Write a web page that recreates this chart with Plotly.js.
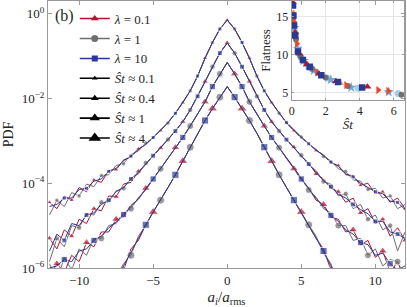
<!DOCTYPE html>
<html><head><meta charset="utf-8">
<script src="https://cdn.plot.ly/plotly-3.0.1.min.js"></script>
<style>html,body{margin:0;padding:0;background:#fff;} #chart{width:407px;height:307px;}</style>
</head><body><div id="chart"></div>
<script>
// ---------- main panel data: x = a_i / a_rms ----------
const xGrid = [-12,-11.5,-11,-10.5,-10,-9.5,-9,-8.5,-8,-7.5,-7,-6.5,-6,-5.5,-5,-4.5,-4,-3.5,-3,-2.5,-2,-1.5,-1,-0.5,0,0.5,1,1.5,2,2.5,3,3.5,4,4.5,5,5.5,6,6.5,7,7.5,8,8.5,9,9.5,10,10.5,11,11.5,12];

// log10(PDF) values (curves shifted vertically per St group)
// St ~ 0.1
const logPdf_St01_lam01 = [-4.45,-4.6,-4.3,-4.4,-4.1,-4.2,-3.92,-3.98,-3.7,-3.68,-3.45,-3.38,-3.19,-3.09,-2.91,-2.76,-2.56,-2.35,-2.1,-1.82,-1.47,-1.05,-0.68,-0.36,-0.15,-0.36,-0.68,-1.05,-1.47,-1.82,-2.1,-2.35,-2.58,-2.76,-2.93,-3.06,-3.23,-3.33,-3.52,-3.58,-3.8,-3.82,-4.05,-4.0,-4.25,-4.2,-4.45,-4.35,-4.6];
const logPdf_St01_lam1 = [-4.75,-4.4,-4.55,-4.22,-4.3,-4.02,-4.08,-3.82,-3.8,-3.58,-3.54,-3.32,-3.24,-3.05,-2.93,-2.74,-2.58,-2.35,-2.1,-1.82,-1.47,-1.05,-0.68,-0.36,-0.15,-0.36,-0.68,-1.05,-1.47,-1.82,-2.1,-2.35,-2.56,-2.74,-2.91,-3.08,-3.2,-3.37,-3.47,-3.66,-3.72,-3.92,-3.95,-4.15,-4.12,-4.35,-4.3,-4.6,-4.5];
const logPdf_St01_lam10 = [-4.55,-4.5,-4.35,-4.35,-4.15,-4.12,-3.95,-3.9,-3.72,-3.65,-3.47,-3.36,-3.2,-3.08,-2.92,-2.75,-2.57,-2.35,-2.1,-1.82,-1.47,-1.05,-0.68,-0.36,-0.15,-0.36,-0.68,-1.05,-1.47,-1.82,-2.1,-2.35,-2.57,-2.75,-2.92,-3.07,-3.22,-3.34,-3.5,-3.6,-3.78,-3.85,-4.0,-4.1,-4.2,-4.25,-4.42,-4.45,-4.62];
// St ~ 0.4
const logPdf_St04_lam01 = [-5.3,-5.55,-5.1,-5.25,-4.85,-4.95,-4.6,-4.65,-4.3,-4.32,-4.02,-3.98,-3.72,-3.56,-3.34,-3.17,-2.97,-2.77,-2.55,-2.27,-1.95,-1.6,-1.25,-0.93,-0.69,-0.93,-1.25,-1.6,-1.95,-2.27,-2.55,-2.77,-2.98,-3.15,-3.37,-3.52,-3.78,-3.9,-4.12,-4.2,-4.45,-4.35,-4.7,-4.6,-4.95,-4.85,-5.25,-5.05,-5.35];
const logPdf_St04_lam1 = [-5.85,-5.3,-5.5,-5.0,-5.05,-4.72,-4.75,-4.45,-4.45,-4.18,-4.12,-3.88,-3.78,-3.52,-3.36,-3.15,-2.97,-2.77,-2.55,-2.27,-1.95,-1.6,-1.25,-0.93,-0.69,-0.93,-1.25,-1.6,-1.95,-2.27,-2.55,-2.77,-2.96,-3.17,-3.34,-3.57,-3.7,-3.96,-4.02,-4.3,-4.25,-4.6,-4.5,-4.85,-4.75,-5.1,-5.0,-5.6,-5.15];
const logPdf_St04_lam10 = [-5.6,-5.2,-5.35,-4.95,-5.0,-4.75,-4.7,-4.5,-4.4,-4.2,-4.1,-3.9,-3.75,-3.54,-3.35,-3.16,-2.97,-2.77,-2.55,-2.27,-1.95,-1.6,-1.25,-0.93,-0.69,-0.93,-1.25,-1.6,-1.95,-2.27,-2.55,-2.77,-2.97,-3.16,-3.35,-3.55,-3.74,-3.94,-4.08,-4.26,-4.35,-4.5,-4.62,-4.72,-4.9,-4.9,-5.15,-5.2,-5.3];
// St ~ 1
const logPdf_St1_lam01 = [-6.2,-5.9,-6.1,-5.7,-5.85,-5.4,-5.5,-5.15,-5.15,-4.85,-4.8,-4.52,-4.38,-4.12,-3.9,-3.66,-3.42,-3.16,-2.92,-2.65,-2.38,-2.08,-1.72,-1.42,-1.15,-1.42,-1.72,-2.08,-2.38,-2.65,-2.92,-3.16,-3.42,-3.66,-3.92,-4.12,-4.4,-4.5,-4.8,-4.85,-5.15,-5.1,-5.45,-5.35,-5.75,-5.6,-6.1,-5.85,-6.3];
const logPdf_St1_lam1 = [-5.9,-6.3,-5.75,-6.05,-5.55,-5.7,-5.3,-5.3,-5.0,-4.95,-4.7,-4.6,-4.34,-4.16,-3.9,-3.66,-3.42,-3.16,-2.92,-2.65,-2.38,-2.08,-1.72,-1.42,-1.15,-1.42,-1.72,-2.08,-2.38,-2.65,-2.92,-3.16,-3.42,-3.66,-3.88,-4.16,-4.33,-4.6,-4.7,-5.0,-5.0,-5.35,-5.3,-5.7,-5.55,-5.95,-5.8,-5.85,-6.2];
const logPdf_St1_lam10 = [-6.0,-5.95,-5.8,-5.85,-5.6,-5.55,-5.35,-5.25,-5.05,-4.92,-4.74,-4.56,-4.36,-4.14,-3.9,-3.66,-3.42,-3.16,-2.92,-2.65,-2.38,-2.08,-1.72,-1.42,-1.15,-1.42,-1.72,-2.08,-2.38,-2.65,-2.92,-3.16,-3.42,-3.66,-3.9,-4.14,-4.36,-4.55,-4.76,-4.9,-5.1,-5.2,-5.4,-5.45,-5.7,-5.65,-5.9,-6.05,-5.95];
// St ~ 4
const logPdf_St4_lam01 = [null,null,null,null,null,null,null,null,-6.5,-6.1,-6.05,-5.55,-5.35,-4.98,-4.68,-4.4,-4.1,-3.8,-3.48,-3.15,-2.82,-2.52,-2.24,-1.97,-1.72,-1.97,-2.24,-2.52,-2.82,-3.15,-3.48,-3.8,-4.1,-4.4,-4.68,-5.0,-5.3,-5.55,-6.05,-6.2,null,null,null,null,null,null,null,null,null];
const logPdf_St4_lam1 = [null,null,null,null,null,null,null,null,-6.4,-6.2,-5.9,-5.7,-5.25,-5.0,-4.68,-4.4,-4.1,-3.8,-3.48,-3.15,-2.82,-2.52,-2.24,-1.97,-1.72,-1.97,-2.24,-2.52,-2.82,-3.15,-3.48,-3.8,-4.1,-4.4,-4.68,-4.98,-5.25,-5.65,-5.9,-6.4,null,null,null,null,null,null,null,null,null];
const logPdf_St4_lam10 = [null,null,null,null,null,null,null,null,-6.7,-6.3,-5.95,-5.62,-5.28,-4.98,-4.68,-4.4,-4.1,-3.8,-3.48,-3.15,-2.82,-2.52,-2.24,-1.97,-1.72,-1.97,-2.24,-2.52,-2.82,-3.15,-3.48,-3.8,-4.1,-4.4,-4.68,-4.98,-5.28,-5.6,-5.95,-6.3,null,null,null,null,null,null,null,null,null];

// ---------- inset data: flatness vs St ----------
const insetSt_sq    = [0.08,0.1,0.14,0.21,0.37,0.66,1.06,1.74,2.72,4.14];
const insetFlat_sq  = [16.4,15.1,13.8,12.5,10.4,9.3,8.4,7.3,6.4,5.7];
const insetSt_tri   = [0.07,0.2,0.45,0.9,1.6,2.6,4.45];
const insetFlat_tri = [16.8,12.9,10.1,8.7,7.5,6.5,5.8];
const insetSt_circ  = [0.1,0.25,0.5,1.2,2.0,3.3,6.45];
const insetFlat_circ= [14.8,12.0,9.8,8.1,7.0,5.9,4.75];
const insetSt_rtri  = [0.12,0.3,0.8,1.5,3.2,5.08,5.67];
const insetFlat_rtri= [14.3,11.4,8.9,7.7,6.0,5.35,5.25];
const insetSt_star  = [0.15,0.35,0.7,1.3,2.3,3.5,5.7];
const insetFlat_star= [13.5,10.8,9.2,7.9,6.7,5.7,5.1];
const insetSt_lc    = [0.18,0.55,1.0,2.1,3.9,6.25];
const insetFlat_lc  = [13.0,9.6,8.3,6.9,5.6,4.9];
const insetSt_otri  = [0.09,0.28,0.6,1.1,1.9,2.9];
const insetFlat_otri= [15.6,11.7,9.5,8.2,7.1,6.2];

// ---------- ticks & labels ----------
const xTickVals = [-10,-5,0,5,10];
const yTickVals = [1,1e-2,1e-4,1e-6];
const yTickText = ['10<sup>0</sup>','10<sup>\u22122</sup>','10<sup>\u22124</sup>','10<sup>\u22126</sup>'];
const lambdaLabels = ['<i>\u03bb</i> = 0.1','<i>\u03bb</i> = 1','<i>\u03bb</i> = 10'];
const stLabels = ['<i>\u015ct</i> \u2248 0.1','<i>\u015ct</i> \u2248 0.4','<i>\u015ct</i> \u2248 1','<i>\u015ct</i> \u2248 4'];

// ---------- styling ----------
const FONT = '"Liberation Serif", "DejaVu Serif", serif';
const RED = '#b5132f', GRAY = '#6f6f6f', BLUE = '#2b3992';
const groups = [
  {series:[logPdf_St4_lam01,logPdf_St4_lam1,logPdf_St4_lam10], size:8, period:4, offs:[2,3,1]},
  {series:[logPdf_St1_lam01,logPdf_St1_lam1,logPdf_St1_lam10], size:7, period:4, offs:[1,3,2]},
  {series:[logPdf_St04_lam01,logPdf_St04_lam1,logPdf_St04_lam10], size:5.5, period:3, offs:[0,1,2]},
  {series:[logPdf_St01_lam01,logPdf_St01_lam1,logPdf_St01_lam10], size:4.5, period:3, offs:[0,1,2]}
];
const colors = [RED, GRAY, BLUE];
const symbols = ['triangle-up','circle','square'];
const symScale = [1.15, 1.0, 0.9];

const traces = [];
groups.forEach(g => {
  g.series.forEach((logs, k) => {
    traces.push({
      type:'scatter', mode:'lines+markers', xaxis:'x', yaxis:'y',
      x: xGrid, y: logs.map(v => v === null ? null : Math.pow(10, v)),
      line:{color:colors[k], width:1}, connectgaps:false,
      marker:{color:colors[k], symbol:symbols[k],
        size: xGrid.map((_, i) => (i % g.period === g.offs[k]) ? g.size*symScale[k] : 0)},
      showlegend:false, hoverinfo:'skip'
    });
  });
});

// legend entries
lambdaLabels.forEach((lab, k) => {
  traces.push({type:'scatter', mode:'lines+markers', x:[null], y:[null], xaxis:'x', yaxis:'y',
    name:lab, line:{color:colors[k], width:1.5}, marker:{color:colors[k], symbol:symbols[k], size:[7,7,6][k]}});
});
const stSizes = [5,7,9,11];
stLabels.forEach((lab, k) => {
  traces.push({type:'scatter', mode:'lines+markers', x:[null], y:[null], xaxis:'x', yaxis:'y',
    name:lab, line:{color:'#000', width:1.6}, marker:{color:'#000', symbol:'triangle-up', size:stSizes[k]}});
});

// inset traces
const insetSets = [
  [insetSt_otri, insetFlat_otri, 'triangle-up', '#f08a5d', 5],
  [insetSt_lc, insetFlat_lc, 'circle', '#a9cfe6', 7],
  [insetSt_star, insetFlat_star, 'star', '#6fa8d6', 8],
  [insetSt_circ, insetFlat_circ, 'circle', '#707070', 6],
  [insetSt_rtri, insetFlat_rtri, 'triangle-right', '#e2492f', 7],
  [insetSt_tri, insetFlat_tri, 'triangle-up', '#b5132f', 7],
  [insetSt_sq, insetFlat_sq, 'square', '#2b3992', 6.5]
];
insetSets.forEach(s => {
  traces.push({type:'scatter', mode:'markers', xaxis:'x2', yaxis:'y2', x:s[0], y:s[1],
    marker:{symbol:s[2], color:s[3], size:s[4]}, showlegend:false, hoverinfo:'skip'});
});

const axisCommon = {ticks:'inside', ticklen:4, tickcolor:'#9a9a9a', showline:true, linecolor:'#9a9a9a',
  linewidth:1, mirror:'ticks', zeroline:false};

const layout = {
  width:407, height:307,
  margin:{l:48, r:2, t:1, b:39},
  paper_bgcolor:'#ffffff', plot_bgcolor:'rgba(0,0,0,0)',
  font:{family:FONT, color:'#262626', size:13},
  showlegend:true,
  legend:{x:0.075, y:0.99, xanchor:'left', yanchor:'top', bgcolor:'rgba(0,0,0,0)',
    font:{family:FONT, size:13, color:'#262626'}, tracegroupgap:0},
  xaxis:Object.assign({}, axisCommon, {domain:[0,1], anchor:'y', range:[-12.1,12], tickvals:xTickVals,
    showgrid:false, tickfont:{family:FONT, size:13},
    title:{text:'<i>a<sub>i</sub></i>/<i>a</i><sub>rms</sub>', font:{family:FONT, size:15}, standoff:4}}),
  yaxis:Object.assign({}, axisCommon, {domain:[0,1], anchor:'x', type:'log', range:[-6,0.3],
    tickvals:yTickVals, ticktext:yTickText, showgrid:false, tickfont:{family:FONT, size:13},
    title:{text:'PDF', font:{family:FONT, size:14}, standoff:4}}),
  xaxis2:Object.assign({}, axisCommon, {domain:[0.6826,0.9972], anchor:'y2', range:[0,6.6],
    tickvals:[0,2,4,6], showgrid:true, gridcolor:'#e6e6e6', tickfont:{family:FONT, size:12}, ticklen:2,
    title:{text:'<i>\u015ct</i>', font:{family:FONT, size:13}, standoff:2}}),
  yaxis2:Object.assign({}, axisCommon, {domain:[0.629,1], anchor:'x2', range:[4.05,17],
    tickvals:[5,10,15], showgrid:true, gridcolor:'#e6e6e6', tickfont:{family:FONT, size:12}, ticklen:2,
    title:{text:'Flatness', font:{family:FONT, size:13}, standoff:2}}),
  annotations:[{text:'(b)', xref:'paper', yref:'paper', x:0.047, y:0.944, xanchor:'center', yanchor:'middle',
    showarrow:false, font:{family:FONT, size:16, color:'#262626'}}]
};

Plotly.newPlot('chart', traces, layout, {staticPlot:true, displayModeBar:false});
</script></body></html>
